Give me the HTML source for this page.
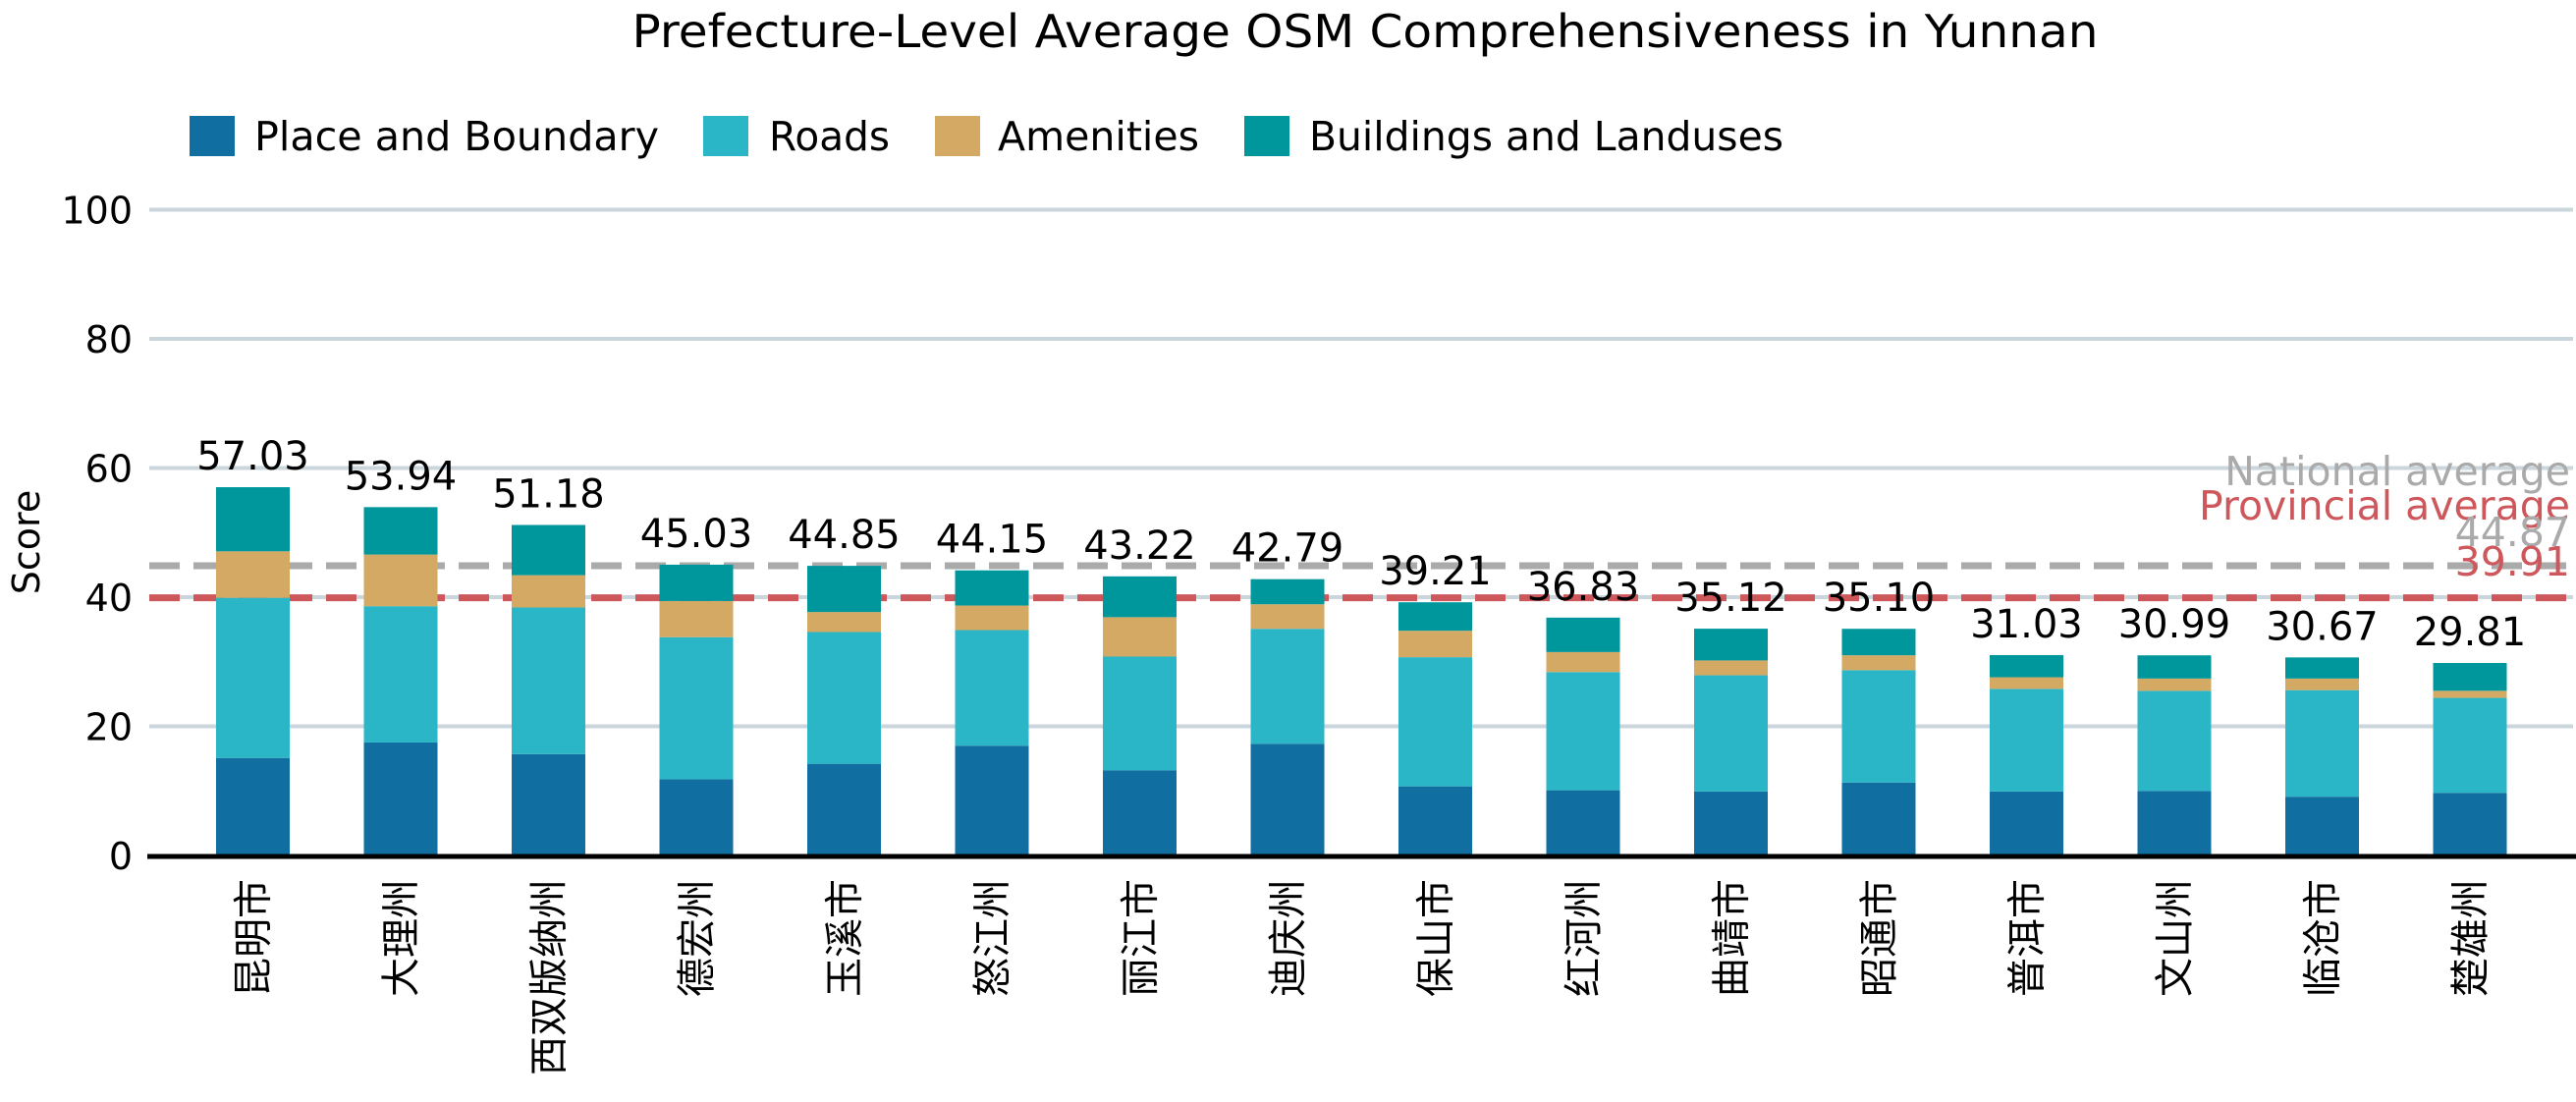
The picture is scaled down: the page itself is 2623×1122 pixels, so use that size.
<!DOCTYPE html>
<html><head><meta charset="utf-8">
<style>
html,body{margin:0;padding:0;background:#fff;}
svg{display:block;font-family:"DejaVu Sans","Noto Sans CJK SC",sans-serif;}
</style></head>
<body>
<svg id="chart" width="2623" height="1122" viewBox="0 0 2623 1122" xmlns="http://www.w3.org/2000/svg">
<text x="1390" y="48" text-anchor="middle" font-size="46" fill="#000" textLength="1493" lengthAdjust="spacingAndGlyphs">Prefecture-Level Average OSM Comprehensiveness in Yunnan</text>
<g>
  <g><rect x="193" y="118" width="46" height="41" fill="#116ea0"/><text x="259" y="153" font-size="41" textLength="412" lengthAdjust="spacingAndGlyphs">Place and Boundary</text></g>
  <g><rect x="716" y="118" width="46" height="41" fill="#2bb6c7"/><text x="783" y="153" font-size="41" textLength="123" lengthAdjust="spacingAndGlyphs">Roads</text></g>
  <g><rect x="952" y="118" width="46" height="41" fill="#d3a963"/><text x="1016" y="153" font-size="41" textLength="205" lengthAdjust="spacingAndGlyphs">Amenities</text></g>
  <g><rect x="1267" y="118" width="46" height="41" fill="#00979c"/><text x="1333" y="153" font-size="41" textLength="483" lengthAdjust="spacingAndGlyphs">Buildings and Landuses</text></g>
</g>
<text transform="translate(40,552) rotate(-90)" text-anchor="middle" font-size="38">Score</text>
<g id="grid"></g>
<g id="refs"></g>
<g id="bars"></g>
<g id="labels"></g>
<g id="xlabels"></g>
<line x1="150" y1="872" x2="2623" y2="872" stroke="#000" stroke-width="5"/>
</svg>
<script>
const categories = ["昆明市","大理州","西双版纳州","德宏州","玉溪市","怒江州","丽江市","迪庆州","保山市","红河州","曲靖市","昭通市","普洱市","文山州","临沧市","楚雄州"];
const place =     [15.1,17.5,15.7,11.8,14.2,17.0,13.2,17.3,10.7,10.1, 9.9,11.3, 9.9,10.0, 9.1, 9.7];
const roads =     [24.8,21.1,22.7,22.0,20.4,17.9,17.6,17.8,20.0,18.3,18.0,17.4,15.9,15.5,16.5,14.7];
const amenities = [ 7.2, 8.0, 5.0, 5.6, 3.1, 3.8, 6.1, 3.8, 4.1, 3.1, 2.3, 2.3, 1.8, 1.9, 1.8, 1.1];
const totals =    [57.03,53.94,51.18,45.03,44.85,44.15,43.22,42.79,39.21,36.83,35.12,35.10,31.03,30.99,30.67,29.81];
const yTicks = [0,20,40,60,80,100];
const nationalAvg = 44.87;
const provincialAvg = 39.91;

const NS="http://www.w3.org/2000/svg";
const Y0=871, PPU=6.575, X0=257.5, STEP=150.5, BW=75, XL=152, XR=2620;
function y(v){return Y0 - v*PPU;}
function x(i){return X0 + i*STEP;}
function mk(tag, attrs, parent){const e=document.createElementNS(NS,tag);for(const k in attrs)e.setAttribute(k,attrs[k]);parent.appendChild(e);return e;}

const grid=document.getElementById('grid');
yTicks.forEach(t=>{
  if(t>0){const l=mk('line',{x1:XL,x2:XR,y1:y(t),y2:y(t),stroke:'#cbd5dc','stroke-width':4},grid);
  
  }
  const tx=mk('text',{x:135,y:y(t)+14,'text-anchor':'end','font-size':38},grid);
  tx.textContent=t;
  
  
});

const refs=document.getElementById('refs');
const nl=mk('line',{x1:XL,x2:XR,y1:y(nationalAvg),y2:y(nationalAvg),stroke:'#aaaaaa','stroke-width':7,'stroke-dasharray':'31 14'},refs);


const pl=mk('line',{x1:XL,x2:XR,y1:y(provincialAvg),y2:y(provincialAvg),stroke:'#cd575b','stroke-width':7,'stroke-dasharray':'31 14'},refs);



const bars=document.getElementById('bars');
const colors=['#116ea0','#2bb6c7','#d3a963','#00979c'];
const names=['place','roads','amenities','buildings'];
categories.forEach((c,i)=>{
  const segs=[place[i],roads[i],amenities[i],totals[i]-place[i]-roads[i]-amenities[i]];
  let base=0;
  segs.forEach((s,k)=>{
    const r=mk('rect',{x:x(i)-BW/2,y:y(base+s),width:BW,height:s*PPU,fill:colors[k]},bars);
    
    
    base+=s;
  });
  const lb=mk('text',{x:x(i),y:y(totals[i])-18,'text-anchor':'middle','font-size':40},document.getElementById('labels'));
  lb.textContent=totals[i].toFixed(2);
  
  
  const xl=mk('text',{transform:'translate('+(x(i)+14)+',895) rotate(-90)','text-anchor':'end','font-size':40},document.getElementById('xlabels'));
  xl.textContent=c;
  
  
});

const lab=document.getElementById('labels');
[['National average',494,'#aaaaaa'],['Provincial average',529,'#cd575b'],[nationalAvg.toFixed(2),556,'#aaaaaa'],[provincialAvg.toFixed(2),586,'#cd575b']].forEach((d,j)=>{
  const t=mk('text',{x:2617,y:d[1],'text-anchor':'end','font-size':41,fill:d[2]},lab);
  t.textContent=d[0];
  
  
});
</script>
</body></html>
